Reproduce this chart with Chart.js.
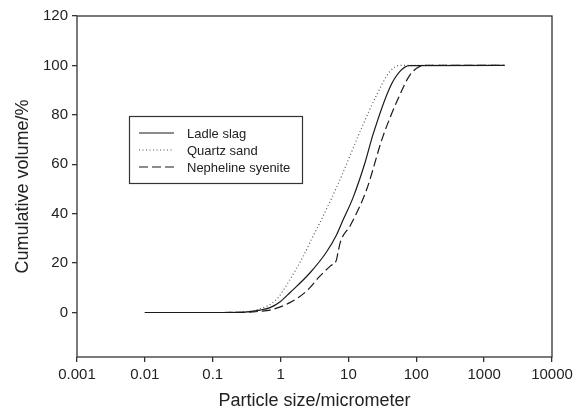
<!DOCTYPE html>
<html>
<head>
<meta charset="utf-8">
<script src="https://cdn.jsdelivr.net/npm/chart.js@4"></script>
<style>
  html, body { margin: 0; padding: 0; background: #fff; }
  #wrap { width: 582px; height: 410px; }
</style>
</head>
<body>
<div id="wrap"><canvas id="myChart" width="582" height="410"></canvas></div>
<script>
var seriesNames = ['Ladle slag', 'Quartz sand', 'Nepheline syenite'];

var ladleSize = [0.01, 0.1, 0.3, 0.5, 0.7, 1.0, 1.37, 2.7, 4.75, 6.7, 8.2, 11.7, 17.5, 23, 40.7, 57, 80, 2000];
var ladleVol  = [0, 0, 0.2, 1, 2, 4.5, 8, 16, 24.5, 31.5, 37, 46.5, 60.5, 72, 91, 97.5, 99.9, 100];

var quartzSize = [0.01, 0.1, 0.3, 0.5, 0.87, 1.37, 2.15, 3.0, 4.0, 7.5, 14.7, 26, 40.7, 57, 2000];
var quartzVol  = [0, 0, 0.3, 1.5, 5.3, 13.3, 22.7, 30.8, 37.6, 53.7, 73, 88, 97.5, 100, 100];

var nephSize = [0.01, 0.1, 0.3, 0.5, 0.7, 1.37, 2.4, 3.8, 5.5, 6.6, 7.1, 7.6, 10.8, 18.5, 32, 57, 80, 113, 140, 2000];
var nephVol  = [0, 0, 0.1, 0.5, 1, 4, 8.6, 14.7, 19, 21, 25, 28.5, 35.5, 49.7, 71, 88, 96, 99.6, 100, 100];

var xTicks = [0.001, 0.01, 0.1, 1, 10, 100, 1000, 10000];
var yTicks = [0, 20, 40, 60, 80, 100, 120];

function pts(xs, ys) {
  return xs.map(function (x, i) { return {x: x, y: ys[i]}; });
}

var font = '"Liberation Sans", Arial, sans-serif';
var ink = '#222';

// frame round the plot and the boxed legend inside it
var framePlugin = {
  id: 'frame',
  afterDraw: function (chart) {
    var ctx = chart.ctx;
    var a = chart.chartArea;
    ctx.save();
    ctx.strokeStyle = '#333';
    ctx.lineWidth = 1.3;
    ctx.setLineDash([]);
    ctx.strokeRect(a.left, a.top, a.right - a.left, a.bottom - a.top);

    // legend box
    ctx.lineWidth = 1.2;
    ctx.strokeRect(129.5, 116.5, 173, 67);
    ctx.font = '13px ' + font;
    ctx.fillStyle = ink;
    ctx.textBaseline = 'middle';
    var rows = [133, 150, 167];
    chart.data.datasets.forEach(function (ds, i) {
      ctx.strokeStyle = ds.borderColor;
      ctx.lineWidth = ds.borderWidth;
      ctx.setLineDash(ds.borderDash || []);
      ctx.beginPath();
      ctx.moveTo(139, rows[i]);
      ctx.lineTo(174, rows[i]);
      ctx.stroke();
      ctx.fillText(ds.label, 187, rows[i] + 1);
    });
    ctx.restore();
  }
};

new Chart("myChart", {
  type: "line",
  data: {
    datasets: [{
      label: seriesNames[0],
      data: pts(ladleSize, ladleVol),
      borderColor: '#1a1a1a',
      borderWidth: 1.2,
      fill: false
    }, {
      label: seriesNames[1],
      data: pts(quartzSize, quartzVol),
      borderColor: '#555',
      borderWidth: 1.2,
      borderDash: [1, 2.5],
      fill: false
    }, {
      label: seriesNames[2],
      data: pts(nephSize, nephVol),
      borderColor: '#1a1a1a',
      borderWidth: 1.2,
      borderDash: [9, 4],
      fill: false
    }]
  },
  options: {
    responsive: false,
    animation: false,
    cubicInterpolationMode: 'monotone',
    elements: { point: { radius: 0 } },
    layout: { padding: { top: 16, right: 30, left: 0, bottom: 0 } },
    plugins: {
      legend: { display: false },
      tooltip: { enabled: false }
    },
    scales: {
      x: {
        type: 'logarithmic',
        min: 0.001,
        max: 10000,
        afterBuildTicks: function (scale) {
          scale.ticks = xTicks.map(function (v) { return {value: v}; });
        },
        afterFit: function (scale) { scale.height = 53; },
        grid: { drawOnChartArea: false, drawTicks: true, tickLength: 5, color: '#333', lineWidth: 1.3 },
        border: { display: false },
        ticks: {
          autoSkip: false,
          maxRotation: 0,
          padding: 4,
          color: ink,
          font: { family: font, size: 15 },
          callback: function (v) { return String(v); }
        },
        title: {
          display: true,
          text: 'Particle size/micrometer',
          color: ink,
          font: { family: font, size: 18, lineHeight: 1 },
          padding: { top: 0, bottom: 0 }
        }
      },
      y: {
        min: -18,
        max: 120,
        afterBuildTicks: function (scale) {
          scale.ticks = yTicks.map(function (v) { return {value: v}; });
        },
        afterFit: function (scale) { scale.width = 77; },
        grid: { drawOnChartArea: false, drawTicks: true, tickLength: 5, color: '#333', lineWidth: 1.3 },
        border: { display: false },
        ticks: {
          padding: 4,
          color: ink,
          font: { family: font, size: 15 }
        },
        title: {
          display: true,
          text: 'Cumulative volume/%',
          color: ink,
          font: { family: font, size: 18 },
          padding: { top: 12, bottom: 0 }
        }
      }
    }
  },
  plugins: [framePlugin]
});
</script>
</body>
</html>
